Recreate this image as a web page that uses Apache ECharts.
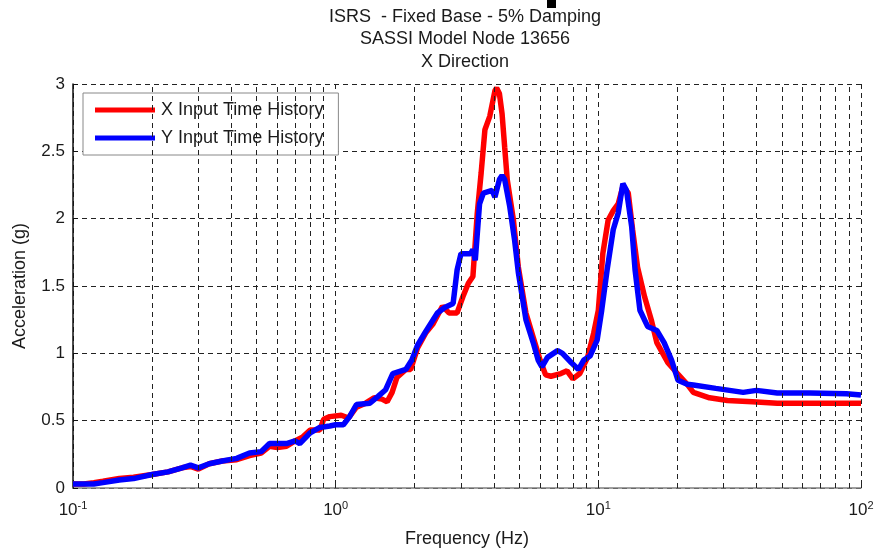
<!DOCTYPE html>
<html>
<head>
<meta charset="utf-8">
<script src="https://cdn.jsdelivr.net/npm/echarts@6/dist/echarts.min.js"></script>
<style>
  html, body { margin: 0; padding: 0; background: #fff; }
  #chart { width: 876px; height: 550px; }
</style>
</head>
<body>
<div id="chart"></div>
<script>
// Spectral response curves: frequency (Hz) and acceleration (g)
var xInputFreq = [0.1, 0.11, 0.12, 0.13, 0.15, 0.17, 0.2, 0.23, 0.26, 0.28, 0.3, 0.33, 0.37, 0.42, 0.47, 0.52, 0.56, 0.6, 0.65, 0.7, 0.75, 0.8, 0.87, 0.9, 0.95, 1.05, 1.12, 1.2, 1.3, 1.4, 1.5, 1.57, 1.64, 1.71, 1.85, 1.93, 2.05, 2.2, 2.35, 2.55, 2.7, 2.9, 3.05, 3.2, 3.33, 3.46, 3.58, 3.7, 3.86, 4.04, 4.1, 4.2, 4.3, 4.4, 4.5, 4.75, 4.96, 5.3, 5.65, 6.0, 6.3, 6.6, 7.2, 7.6, 8.0, 8.5, 9.1, 9.6, 10.0, 10.4, 10.9, 11.4, 11.9, 12.4, 13.0, 13.5, 14.1, 15.0, 15.9, 16.7, 18.4, 20, 21.8, 23, 26.5, 31, 38.6, 48, 70, 100];
var xInputAcc  = [0.03, 0.03, 0.04, 0.05, 0.07, 0.08, 0.10, 0.12, 0.15, 0.16, 0.14, 0.18, 0.20, 0.21, 0.24, 0.26, 0.31, 0.30, 0.31, 0.35, 0.38, 0.43, 0.43, 0.51, 0.53, 0.54, 0.52, 0.60, 0.63, 0.67, 0.66, 0.64, 0.71, 0.82, 0.88, 0.88, 1.04, 1.15, 1.22, 1.35, 1.30, 1.30, 1.42, 1.52, 1.57, 2.04, 2.34, 2.66, 2.76, 2.95, 2.97, 2.93, 2.78, 2.53, 2.29, 1.99, 1.64, 1.30, 1.12, 0.95, 0.84, 0.83, 0.85, 0.87, 0.81, 0.85, 0.97, 1.15, 1.32, 1.74, 1.99, 2.06, 2.11, 2.24, 2.19, 1.92, 1.64, 1.42, 1.25, 1.08, 0.93, 0.85, 0.77, 0.71, 0.67, 0.65, 0.64, 0.63, 0.63, 0.63];

var yInputFreq = [0.1, 0.12, 0.13, 0.15, 0.17, 0.2, 0.23, 0.26, 0.28, 0.3, 0.33, 0.37, 0.42, 0.47, 0.52, 0.56, 0.65, 0.7, 0.73, 0.8, 0.87, 0.95, 1.0, 1.07, 1.13, 1.2, 1.35, 1.45, 1.55, 1.65, 1.85, 1.95, 2.05, 2.2, 2.44, 2.6, 2.8, 2.9, 3.0, 3.26, 3.33, 3.4, 3.53, 3.65, 3.94, 4.04, 4.2, 4.3, 4.4, 4.6, 4.8, 4.96, 5.3, 5.65, 5.9, 6.1, 6.4, 7.0, 7.3, 7.9, 8.4, 8.8, 9.3, 9.9, 10.3, 10.8, 11.4, 11.9, 12.4, 12.8, 13.4, 13.8, 14.4, 15.4, 16.7, 17.8, 19, 20.1, 21.8, 23, 28, 35.6, 40, 48, 64, 88, 100];
var yInputAcc  = [0.03, 0.03, 0.04, 0.06, 0.07, 0.10, 0.12, 0.15, 0.17, 0.15, 0.18, 0.20, 0.22, 0.26, 0.27, 0.33, 0.33, 0.35, 0.33, 0.41, 0.45, 0.46, 0.47, 0.47, 0.53, 0.62, 0.63, 0.68, 0.73, 0.85, 0.88, 0.95, 1.06, 1.16, 1.30, 1.34, 1.37, 1.62, 1.74, 1.74, 1.77, 1.69, 2.11, 2.19, 2.21, 2.16, 2.29, 2.32, 2.29, 2.09, 1.84, 1.60, 1.25, 1.08, 0.95, 0.90, 0.97, 1.02, 1.00, 0.93, 0.88, 0.95, 0.98, 1.10, 1.32, 1.62, 1.92, 2.04, 2.26, 2.21, 1.94, 1.62, 1.32, 1.20, 1.17, 1.08, 0.95, 0.80, 0.77, 0.765, 0.74, 0.71, 0.725, 0.705, 0.705, 0.70, 0.69];

var seriesNames = ['X Input Time History', 'Y Input Time History'];
var titleLines = ['ISRS  - Fixed Base - 5% Damping', 'SASSI Model Node 13656', 'X Direction'];
var yTicks = [0, 0.5, 1, 1.5, 2, 2.5, 3];
var decades = [0.1, 1, 10, 100];
var minorSteps = [2, 3, 4, 5, 6, 7, 8, 9];

function zip(a, b) { return a.map(function (v, i) { return [v, b[i]]; }); }

// minor grid positions between decades (0.2..0.9, 2..9, 20..90)
var minorFreqs = [];
decades.slice(0, -1).forEach(function (d) {
  minorSteps.forEach(function (m) { minorFreqs.push(+(d * m).toPrecision(3)); });
});

var FONT = '"Liberation Sans", Arial, Helvetica, sans-serif';
var gridDash = [5, 4];

var chart = echarts.init(document.getElementById('chart'), null, { renderer: 'canvas' });
chart.setOption({
  animation: false,
  backgroundColor: '#ffffff',
  textStyle: { fontFamily: FONT },
  grid: { left: 73, right: 15, top: 84, bottom: 62, containLabel: false, outerBoundsMode: 'none' },
  graphic: [
    { type: 'rect', left: 547, top: 0, shape: { width: 9, height: 8 }, style: { fill: '#000' } }
  ].concat(titleLines.map(function (t, i) {
    return {
      type: 'text', x: 465, y: 17 + i * 22.5,
      style: { text: t, fill: '#1a1a1a', font: '18px ' + FONT, textAlign: 'center', textVerticalAlign: 'middle' }
    };
  })),
  legend: {
    left: 83, top: 93,
    orient: 'vertical',
    itemWidth: 60, itemHeight: 5, itemGap: 6,
    padding: [6, 15, 6, 12],
    backgroundColor: '#fff',
    borderColor: '#888', borderWidth: 1,
    textStyle: { fontSize: 18, lineHeight: 22, color: '#1a1a1a', fontFamily: FONT, padding: [0, 0, 0, 1] },
    data: seriesNames.map(function (n) { return { name: n, icon: 'rect' }; })
  },
  xAxis: {
    type: 'log', logBase: 10, min: 0.1, max: 100,
    name: 'Frequency (Hz)', nameLocation: 'middle', nameGap: 42,
    nameTextStyle: { fontSize: 18, color: '#1a1a1a' },
    axisLine: { lineStyle: { color: '#808080', width: 1.5 } },
    axisTick: { inside: true, length: 7, lineStyle: { color: '#222' } },
    axisLabel: {
      margin: 12,
      formatter: function (v) {
        var e = Math.round(Math.log10(v));
        return '{b|10}{s|' + e + '}';
      },
      rich: {
        b: { fontSize: 17, color: '#1a1a1a', fontFamily: FONT },
        s: { fontSize: 11, color: '#1a1a1a', fontFamily: FONT, verticalAlign: 'top', padding: [0, 0, 9, 0] }
      }
    },
    splitLine: { show: true, lineStyle: { type: gridDash, color: '#222', width: 1 } }
  },
  yAxis: {
    type: 'value', min: yTicks[0], max: yTicks[yTicks.length - 1], interval: 0.5,
    name: 'Acceleration (g)', nameLocation: 'middle', nameGap: 44, nameRotate: 90,
    nameTextStyle: { fontSize: 18, color: '#1a1a1a' },
    axisLine: { show: true, lineStyle: { color: '#111', width: 1.5 } },
    axisTick: { show: true, inside: true, length: 5, lineStyle: { color: '#111' } },
    axisLabel: { fontSize: 17, color: '#1a1a1a', margin: 8 },
    splitLine: { show: true, lineStyle: { type: gridDash, color: '#222', width: 1 } }
  },
  series: [
    {
      name: 'minor grid', type: 'line', data: [], silent: true,
      markLine: {
        silent: true, symbol: 'none', animation: false,
        label: { show: false },
        lineStyle: { type: gridDash, color: '#222', width: 1 },
        data: minorFreqs.map(function (f) { return { xAxis: f }; })
      }
    },
    {
      name: seriesNames[0], type: 'line', data: zip(xInputFreq, xInputAcc),
      symbol: 'none', color: '#ff0000',
      lineStyle: { color: '#ff0000', width: 5.5 }, z: 3
    },
    {
      name: seriesNames[1], type: 'line', data: zip(yInputFreq, yInputAcc),
      symbol: 'none', color: '#0000ff',
      lineStyle: { color: '#0000ff', width: 5.5 }, z: 4
    }
  ]
});
</script>
</body>
</html>
